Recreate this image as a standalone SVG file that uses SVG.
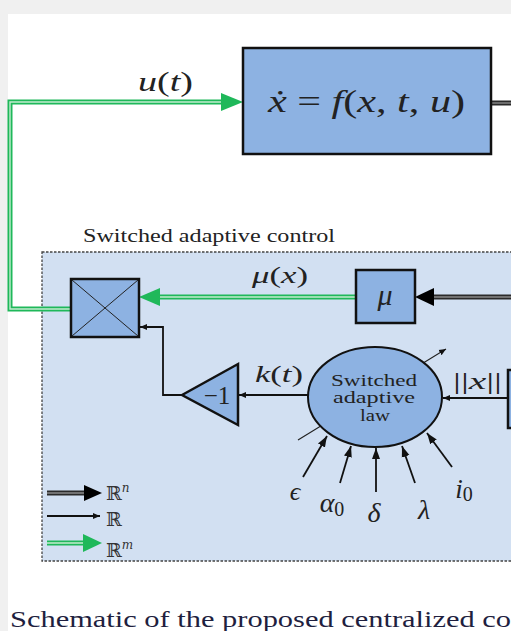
<svg xmlns="http://www.w3.org/2000/svg" width="511" height="631" viewBox="0 0 511 631">
<defs>
<style>
.blk{fill:#8db2e2;stroke:#111;stroke-width:2.5}
.math{font-family:"Liberation Serif","DejaVu Serif",serif;font-style:italic;fill:#222}
.rm{font-family:"Liberation Serif","DejaVu Serif",serif;fill:#222}
.bb{font-family:"DejaVu Serif","Liberation Serif",serif;fill:#333}
.gout{fill:none;stroke:#1fb85a;stroke-width:5}
.gin{fill:none;stroke:#c4ecd0;stroke-width:1.4}
.nout{fill:none;stroke:#2a2a2a;stroke-width:5}
.nin{fill:none;stroke:#8a8a8a;stroke-width:1.4}
.thin{fill:none;stroke:#111;stroke-width:1.8}
</style>
<marker id="ah" markerWidth="12" markerHeight="10" refX="11" refY="5" orient="auto" markerUnits="userSpaceOnUse"><path d="M0,1 L11,5 L0,9 Z" fill="#111"/></marker>
<marker id="ahs" markerWidth="8" markerHeight="7" refX="7" refY="3.5" orient="auto" markerUnits="userSpaceOnUse"><path d="M0,0.5 L7,3.5 L0,6.5 Z" fill="#111"/></marker>
</defs>
<rect x="0" y="0" width="511" height="631" fill="#f0f0f0"/>
<rect x="8" y="14" width="503" height="617" fill="#ffffff"/>

<g id="controller-frame">
<rect x="42" y="252" width="480" height="309" fill="#d2e0f2" stroke="#444" stroke-width="1.3" stroke-dasharray="2.5 1.5"/>
<text class="rm" x="83" y="242" font-size="18" textLength="252" lengthAdjust="spacingAndGlyphs" fill="#333">Switched adaptive control</text>
</g>

<g id="connectors">
<polyline class="gout" points="71,309 10,309 10,102 224,102"/>
<polyline class="gin" points="71,309 10,309 10,102 224,102"/>
<polygon points="221,93 243,102 221,111" fill="#1fb85a"/>
<line class="gout" x1="356" y1="297" x2="156" y2="297"/>
<line class="gin" x1="356" y1="297" x2="156" y2="297"/>
<polygon points="160,288 139,297 160,306" fill="#1fb85a"/>
<line class="nout" x1="515" y1="297" x2="430" y2="297"/>
<line class="nin" x1="515" y1="297" x2="430" y2="297"/>
<polygon points="434,288 415,297 434,306" fill="#000"/>
<line class="nout" x1="491" y1="103" x2="515" y2="103"/>
<line class="nin" x1="491" y1="103" x2="515" y2="103"/>
<path class="thin" d="M182,395 H163 V327 H140" marker-end="url(#ahs)"/>
<line class="thin" x1="309" y1="395" x2="239" y2="395" marker-end="url(#ahs)"/>
<line class="thin" x1="508" y1="398" x2="443" y2="398" marker-end="url(#ahs)"/>
<line x1="298" y1="440" x2="446" y2="349" stroke="#222" stroke-width="1.1" marker-end="url(#ahs)"/>
<line class="thin" x1="303" y1="477" x2="327" y2="436" marker-end="url(#ah)"/>
<line class="thin" x1="340" y1="483" x2="351" y2="446" marker-end="url(#ah)"/>
<line class="thin" x1="376" y1="492" x2="376" y2="448" marker-end="url(#ah)"/>
<line class="thin" x1="415" y1="483" x2="402" y2="446" marker-end="url(#ah)"/>
<line class="thin" x1="452" y1="467" x2="427" y2="433" marker-end="url(#ah)"/>
</g>

<g id="plant">
<rect class="blk" x="243" y="48" width="248" height="106"/>
<text class="math" x="268" y="112" font-size="32" textLength="197" lengthAdjust="spacingAndGlyphs">ẋ <tspan font-style="normal">=</tspan> f<tspan font-style="normal">(</tspan>x<tspan font-style="normal">,</tspan> t<tspan font-style="normal">,</tspan> u<tspan font-style="normal">)</tspan></text>
</g>
<text class="math" x="138" y="91" font-size="28" textLength="55" lengthAdjust="spacingAndGlyphs">u<tspan font-style="normal">(</tspan>t<tspan font-style="normal">)</tspan></text>

<g id="multiplier">
<rect class="blk" x="71" y="279" width="68" height="58"/>
<path d="M72,280 L138,336 M138,280 L72,336" stroke="#222" stroke-width="1"/>
</g>

<g id="mu-block">
<rect class="blk" x="356" y="270" width="59" height="53"/>
<text class="math" x="385" y="305" font-size="30" text-anchor="middle">μ</text>
</g>
<text class="math" x="252" y="283" font-size="24" textLength="56" lengthAdjust="spacingAndGlyphs">μ<tspan font-style="normal">(</tspan>x<tspan font-style="normal">)</tspan></text>

<g id="gain">
<polygon class="blk" points="182,395 238,364 238,425"/>
<text class="rm" x="217" y="404" font-size="25" text-anchor="middle">−1</text>
</g>
<text class="math" x="255" y="382" font-size="24" textLength="48" lengthAdjust="spacingAndGlyphs">k<tspan font-style="normal">(</tspan>t<tspan font-style="normal">)</tspan></text>

<g id="norm-block">
<rect class="blk" x="508" y="370" width="20" height="58"/>
</g>
<text class="math" x="453" y="389" font-size="24" textLength="49" lengthAdjust="spacingAndGlyphs"><tspan font-style="normal">||</tspan>x<tspan font-style="normal">||</tspan></text>

<g id="adaptive-law">
<ellipse cx="375" cy="397" rx="67" ry="50" fill="#8db2e2" stroke="#111" stroke-width="2"/>
<text class="rm" x="374" y="386" font-size="16" text-anchor="middle" textLength="86" lengthAdjust="spacingAndGlyphs" fill="#3a4764">Switched</text>
<text class="rm" x="374" y="403" font-size="16" text-anchor="middle" textLength="82" lengthAdjust="spacingAndGlyphs" fill="#3a4764">adaptive</text>
<text class="rm" x="375" y="421" font-size="16" text-anchor="middle" textLength="30" lengthAdjust="spacingAndGlyphs" fill="#3a4764">law</text>
</g>

<g id="parameters">
<text class="math" x="295" y="500" font-size="26" text-anchor="middle">ϵ</text>
<text class="math" x="332" y="512" font-size="28" text-anchor="middle">α<tspan font-style="normal" font-size="20" dy="4">0</tspan></text>
<text class="math" x="374" y="522" font-size="28" text-anchor="middle">δ</text>
<text class="math" x="424" y="519" font-size="28" text-anchor="middle">λ</text>
<text class="math" x="464" y="498" font-size="27" text-anchor="middle">i<tspan font-style="normal" font-size="20" dy="3">0</tspan></text>
</g>

<g id="legend">
<line class="nout" x1="47" y1="493" x2="86" y2="493"/>
<line class="nin" x1="47" y1="493" x2="86" y2="493"/>
<polygon points="84,485 102,493 84,501" fill="#000"/>
<line class="thin" x1="47" y1="516" x2="100" y2="516" marker-end="url(#ahs)"/>
<line class="gout" x1="47" y1="543" x2="86" y2="543"/>
<line class="gin" x1="47" y1="543" x2="86" y2="543"/>
<polygon points="83,534 102,543 83,552" fill="#1fb85a"/>
<text class="bb" x="106" y="500" font-size="19">ℝ<tspan font-size="12" dy="-8" font-style="italic">n</tspan></text>
<text class="bb" x="106" y="526" font-size="19">ℝ</text>
<text class="bb" x="106" y="557" font-size="19">ℝ<tspan font-size="12" dy="-8" font-style="italic">m</tspan></text>
</g>

<text x="10" y="627" font-family="Liberation Serif,serif" font-size="23" fill="#1f1f3f" textLength="501" lengthAdjust="spacingAndGlyphs">Schematic of the proposed centralized co</text>
</svg>
